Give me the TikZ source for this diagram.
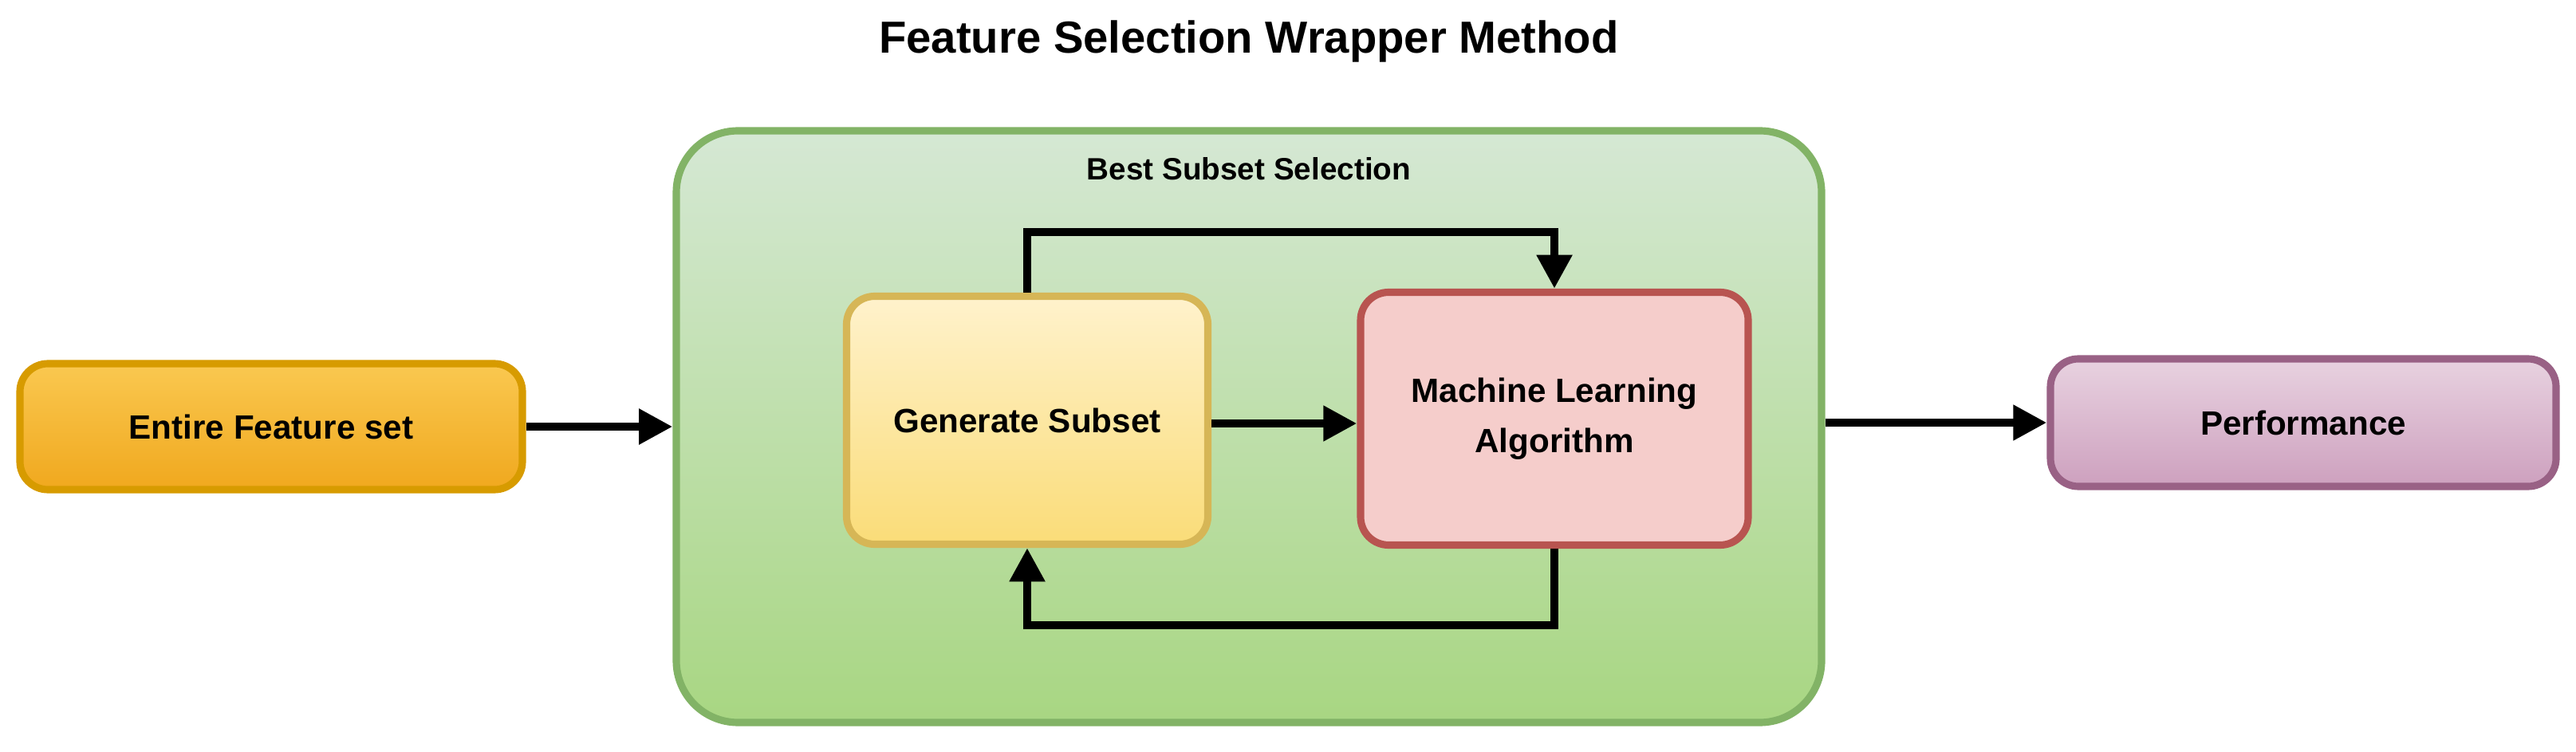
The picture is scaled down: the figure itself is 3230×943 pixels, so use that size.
\documentclass[tikz,border=0pt]{standalone}
\usepackage{fontspec}
\setmainfont{Liberation Sans}
\usetikzlibrary{arrows.meta}
\begin{document}
\begin{tikzpicture}[x=0.01cm,y=-0.01cm,
 box/.style={rounded corners=10pt,line width=2.6pt,font=\bfseries\fontsize{12}{14}\selectfont,align=center,inner sep=0pt},
 arr/.style={line width=3pt,-{Triangle[length=12pt,width=12pt]}}]
\useasboundingbox (0,0) rectangle (3230,943);
\node[font=\bfseries\fontsize{16}{18}\selectfont] (title) at (1566,52) {Feature Selection Wrapper Method};
\node[box,rounded corners=22pt,draw={rgb,255:red,130;green,179;blue,102},top color={rgb,255:red,213;green,232;blue,212},bottom color={rgb,255:red,168;green,214;blue,130},minimum width=1436*0.01cm,minimum height=742*0.01cm] (green) at (1566,535) {};
\node[font=\bfseries\fontsize{11}{13}\selectfont] (bss) at (1566,212) {Best Subset Selection};
\node[box,draw={rgb,255:red,215;green,155;blue,0},top color={rgb,255:red,250;green,200;blue,80},bottom color={rgb,255:red,240;green,168;blue,30},minimum width=630*0.01cm,minimum height=158*0.01cm] (efs) at (340,535) {Entire Feature set};
\node[box,draw={rgb,255:red,214;green,182;blue,86},top color={rgb,255:red,255;green,242;blue,204},bottom color={rgb,255:red,250;green,220;blue,120},minimum width=453*0.01cm,minimum height=311*0.01cm] (gen) at (1288,527) {Generate Subset};
\node[box,draw={rgb,255:red,184;green,84;blue,80},fill={rgb,255:red,245;green,205;blue,203},minimum width=486*0.01cm,minimum height=317*0.01cm] (ml) at (1949,525) {Machine Learning\\[4pt]Algorithm};
\node[box,draw={rgb,255:red,153;green,97;blue,133},top color={rgb,255:red,232;green,210;blue,224},bottom color={rgb,255:red,205;green,160;blue,190},minimum width=634*0.01cm,minimum height=160*0.01cm] (perf) at (2888,530) {Performance};
\draw[arr] (efs.east) -- (green.west|-efs.east);
\draw[arr] (gen.east|-0,531) -- (ml.west|-0,531);
\draw[arr] (green.east|-0,530) -- (perf.west|-0,530);
\draw[arr] (gen.north) -- (1288,291) -- (1949,291) -- (ml.north);
\draw[arr] (ml.south) -- (1949,784) -- (1288,784) -- (gen.south);
\end{tikzpicture}
\end{document}
